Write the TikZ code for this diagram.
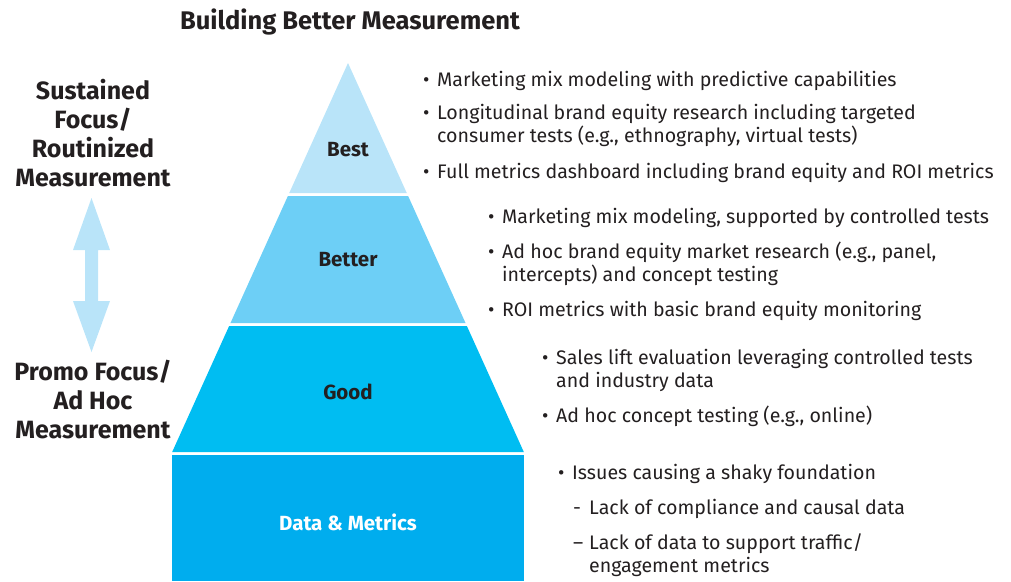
\documentclass[tikz,border=0pt]{standalone}
\usepackage{fontspec}
\setmainfont{Fira Sans}
\definecolor{inkc}{HTML}{231F20}
\definecolor{bestc}{HTML}{B9E4F9}
\definecolor{betterc}{HTML}{6DCFF6}
\definecolor{goodc}{HTML}{00BDF2}
\definecolor{basec}{HTML}{00ADEE}
\newcommand{\bul}{\makebox[14pt][l]{\textbullet}}
\newcommand{\ind}{\hspace*{14pt}}
\begin{document}
\begin{tikzpicture}[x=1pt,y=-1pt,line join=round,
	every node/.style={text=inkc,inner sep=0pt},
	item/.style={anchor=base west,align=left,font=\fontsize{19.6}{22.5}\selectfont},
	lvl/.style={font=\bfseries\fontsize{20.5}{24}\selectfont},
	side/.style={align=center,anchor=base,font=\bfseries\fontsize{25}{29}\selectfont}]
		\useasboundingbox (0,0) rectangle (1011,581);
		\def\hw(#1){0.452*(#1-63)}
		% pyramid
		\foreach \t/\b/\c in {63/193/bestc,196/323/betterc,326/452/goodc}
		\fill[\c] ({348-\hw(\t)},\t)--({348+\hw(\t)},\t)--({348+\hw(\b)},\b)--({348-\hw(\b)},\b)--cycle;
		\fill[basec] (172,455) rectangle (524,581);
		\node[lvl] (best) at (348,150){Best};
		\node[lvl] (better) at (348,260){Better};
		\node[lvl] (good) at (348,392){Good};
		\node[lvl,text=white] (data) at (348,522){Data \& Metrics};
		% title and side labels (base = last line)
		\node[font=\bfseries\fontsize{25.5}{28}\selectfont,anchor=base] (title) at (350,29){Building Better Measurement};
		\node[side] (sustained) at (93,186){Sustained\\Focus/\\Routinized\\Measurement};
		\node[side] (promo) at (93,438){Promo Focus/\\Ad Hoc\\Measurement};
		\fill[bestc] (91.5,198)--(110,250)--(98,250)--(98,301)--(110,301)--(91.5,352)
		--(73,301)--(85,301)--(85,250)--(73,250)--cycle;
		% best
		\node[item] (bestA) at (423,86){\bul Marketing mix modeling with predictive capabilities};
		\node[item] (bestB) at (423,142){\bul Longitudinal brand equity research including targeted\\\ind consumer tests (e.g., ethnography, virtual tests)};
		\node[item] (bestC) at (423,178){\bul Full metrics dashboard including brand equity and ROI metrics};
		% better
		\node[item] (betterA) at (488,223){\bul Marketing mix modeling, supported by controlled tests};
		\node[item] (betterB) at (488,281){\bul Ad hoc brand equity market research (e.g., panel,\\\ind intercepts) and concept testing};
		\node[item] (betterC) at (488,316){\bul ROI metrics with basic brand equity monitoring};
		% good
		\node[item] (goodA) at (542,387){\bul Sales lift evaluation leveraging controlled tests\\\ind and industry data};
		\node[item] (goodB) at (542,422){\bul Ad hoc concept testing (e.g., online)};
		% data
		\node[item] (dataA) at (558,479){\bul Issues causing a shaky foundation};
		\node[item] (dataB) at (573,514){\makebox[16pt][l]{-}Lack of compliance and causal data};
		\node[item] (dataC) at (573,572){\makebox[16pt][l]{–}Lack of data to support traffic/\\\hspace*{16pt}engagement metrics};
\end{tikzpicture}
\end{document}
